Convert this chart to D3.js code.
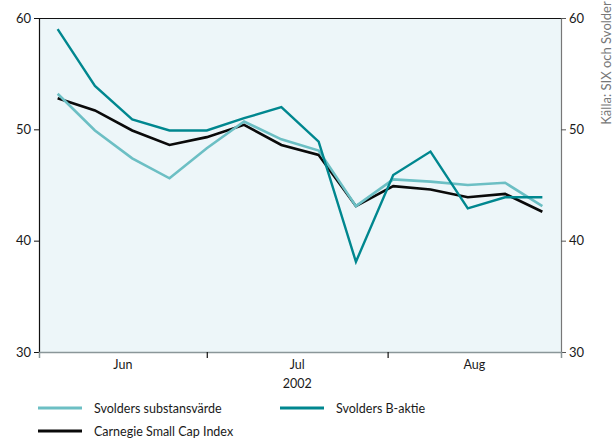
<!DOCTYPE html>
<html>
<head>
<meta charset="utf-8">
<script src="https://cdn.jsdelivr.net/npm/d3@7"></script>
<style>
  body { margin: 0; background: #fff; }
  text { font-family: Lato, "Open Sans", sans-serif; fill: #1a1a1a; }
</style>
</head>
<body>
<div class="chart"></div>
<script>
// weekly observations, May - Aug 2002 (index = week number)
const weeks = d3.range(14);
const substansvarde = [53.2, 49.9, 47.4, 45.6, 48.3, 50.7, 49.1, 48.1, 43.1, 45.5, 45.3, 45.0, 45.2, 43.1];
const bAktie = [59.0, 53.9, 50.9, 49.9, 49.9, 51.0, 52.0, 48.9, 38.1, 45.9, 48.0, 42.9, 43.9, 43.9];
const carnegie = [52.8, 51.7, 49.9, 48.6, 49.3, 50.4, 48.6, 47.7, 43.1, 44.9, 44.6, 43.9, 44.2, 42.6];

// month boundaries in week units, and month names
const monthBreaks = [4.0, 8.85];
const monthNames = ["Jun", "Jul", "Aug"];
const yearLabel = "2002";
const yTicks = [30, 40, 50, 60];
const source = "Källa: SIX och Svolder";

const width = 615, height = 439;
const mLeft = 39, mRight = 561, mTop = 18, mBottom = 352;

const svg = d3.select(".chart").append("svg")
  .attr("width", width)
  .attr("height", height);

const x = d3.scaleLinear().domain([-0.5, 13.5]).range([mLeft, mRight]);
const y = d3.scaleLinear().domain([30, 60]).range([mBottom, mTop]);

// plot background
svg.append("rect")
  .attr("x", mLeft).attr("y", mTop)
  .attr("width", mRight - mLeft).attr("height", mBottom - mTop)
  .attr("fill", "#edf6f9");

// top border
svg.append("line")
  .attr("x1", mLeft).attr("x2", mRight)
  .attr("y1", mTop + 0.5).attr("y2", mTop + 0.5)
  .attr("stroke", "#111").attr("stroke-width", 1.2);

// left axis
const yLeft = svg.append("g")
  .attr("transform", `translate(${mLeft},0)`)
  .call(d3.axisLeft(y).tickValues(yTicks).tickSize(5).tickPadding(3));
yLeft.select(".domain").attr("stroke", "#111").attr("stroke-width", 1.2);
yLeft.selectAll(".tick line").attr("stroke", "#111");

// right axis
const yRight = svg.append("g")
  .attr("transform", `translate(${mRight},0)`)
  .call(d3.axisRight(y).tickValues(yTicks).tickSize(5).tickPadding(3));
yRight.select(".domain").attr("stroke", "#777").attr("stroke-width", 1.2);
yRight.selectAll(".tick line").attr("stroke", "#555");

svg.selectAll(".tick text")
  .attr("font-size", 13)
  .style("font-family", "Lato, 'Open Sans', sans-serif")
  .attr("fill", "#1a1a1a");

// bottom axis with month boundaries
const xAxis = svg.append("g")
  .attr("transform", `translate(0,${mBottom})`)
  .call(d3.axisBottom(x).tickValues(monthBreaks).tickSize(6).tickFormat(""));
xAxis.select(".domain").attr("stroke", "#8a9699").attr("stroke-width", 1.5);
xAxis.selectAll(".tick line").attr("stroke", "#111").attr("stroke-width", 1.2);

// month labels centered in each month segment
const bounds = [x.domain()[0], ...monthBreaks, x.domain()[1]];
svg.selectAll(".month")
  .data(monthNames)
  .join("text")
  .attr("class", "month")
  .attr("x", (d, i) => x((bounds[i] + bounds[i + 1]) / 2))
  .attr("y", mBottom + 17)
  .attr("text-anchor", "middle")
  .attr("font-size", 12.5)
  .text(d => d);

svg.append("text")
  .attr("x", x((monthBreaks[0] + monthBreaks[1]) / 2))
  .attr("y", mBottom + 36)
  .attr("text-anchor", "middle")
  .attr("font-size", 12.5)
  .text(yearLabel);

// series
const series = [
  { name: "Carnegie Small Cap Index", values: carnegie, color: "#0a0a0a", width: 2.6 },
  { name: "Svolders substansvärde", values: substansvarde, color: "#6cbfc4", width: 2.6 },
  { name: "Svolders B-aktie", values: bAktie, color: "#00878f", width: 2.4 }
];

const line = d3.line()
  .x((d, i) => x(weeks[i]))
  .y(d => y(d));

svg.selectAll(".series")
  .data(series)
  .join("path")
  .attr("class", "series")
  .attr("d", d => line(d.values))
  .attr("fill", "none")
  .attr("stroke", d => d.color)
  .attr("stroke-width", d => d.width)
  .attr("stroke-linejoin", "miter");

// source note
svg.append("text")
  .attr("transform", "translate(611,63) rotate(-90)")
  .attr("text-anchor", "middle")
  .attr("font-size", 13)
  .style("fill", "#777")
  .text(source);

// legend
const legendItems = [
  { s: series[1], x: 38, y: 408 },
  { s: series[2], x: 280, y: 408 },
  { s: series[0], x: 38, y: 431 }
];
const legend = svg.selectAll(".legend")
  .data(legendItems)
  .join("g")
  .attr("class", "legend")
  .attr("transform", d => `translate(${d.x},${d.y})`);
legend.append("line")
  .attr("x1", 0).attr("x2", 44)
  .attr("stroke", d => d.s.color)
  .attr("stroke-width", 3);
legend.append("text")
  .attr("x", 56).attr("y", 4.5)
  .attr("font-size", 12.5)
  .text(d => d.s.name);
</script>
</body>
</html>
